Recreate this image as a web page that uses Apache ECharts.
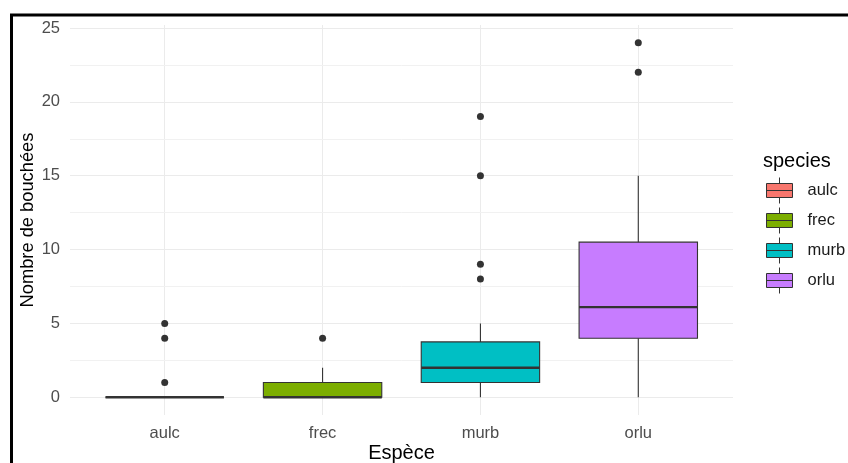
<!DOCTYPE html>
<html>
<head>
<meta charset="utf-8">
<script src="https://cdn.jsdelivr.net/npm/echarts@6/dist/echarts.min.js"></script>
<style>
  html, body { margin: 0; padding: 0; background: #ffffff; }
  #chart { width: 848px; height: 463px; }
</style>
</head>
<body>
<div id="chart"></div>
<script>
// Box statistics per species (whisker ends, quartiles, median)
const species = ['aulc', 'frec', 'murb', 'orlu'];
const whiskerLow = [0, 0, 0, 0];
const q1 = [0, 0, 1, 4];
const median = [0, 0, 2, 6.1];
const q3 = [0, 1, 3.75, 10.5];
const whiskerHigh = [0, 2, 5, 15];
// Points beyond the whiskers
const outliers = [[1, 4, 5], [4], [8, 9, 15, 19], [22, 24]];
const speciesColors = ['#F8766D', '#7CAE00', '#00BFC4', '#C77CFF'];
// Value axis labels and grid lines
const yTicks = [0, 5, 10, 15, 20, 25];
const yMinorGrid = [2.5, 7.5, 12.5, 17.5, 22.5];

const FONT = "'Liberation Sans', Arial, sans-serif";
const INK = '#333333';
const GRID_COLOR = '#EBEBEB';
const TICK_SIZE = 16.5;

// Panel geometry: discrete axis padded by 0.6 of a category on each side
const panelLeft = 70, panelWidth = 663, panelTop = 25, panelHeight = 390;
const band = panelWidth / (species.length + 0.2);
const yMin = -1.2, yMax = 25.2;

function renderBox(params, api) {
  const idx = api.value(0);
  const bw = api.size([1, 0])[0];
  const half = bw * 0.75 / 2;
  const cx = api.coord([idx, 0])[0];
  const y = k => api.coord([idx, api.value(k)])[1];
  const yLo = y(1), yQ1 = y(2), yMed = y(3), yQ3 = y(4), yHi = y(5);
  return {
    type: 'group',
    children: [
      { type: 'line', shape: { x1: cx, y1: yQ3, x2: cx, y2: yHi }, style: { stroke: INK, lineWidth: 1.1 } },
      { type: 'line', shape: { x1: cx, y1: yQ1, x2: cx, y2: yLo }, style: { stroke: INK, lineWidth: 1.1 } },
      { type: 'rect', shape: { x: cx - half, y: yQ3, width: half * 2, height: yQ1 - yQ3 },
        style: { fill: api.visual('color'), stroke: INK, lineWidth: 1.1 } },
      { type: 'line', shape: { x1: cx - half, y1: yMed, x2: cx + half, y2: yMed }, style: { stroke: INK, lineWidth: 2.4 } }
    ]
  };
}

const outlierPoints = [];
outliers.forEach((vals, i) => vals.forEach(v => outlierPoints.push([i, v])));

const boxSeries = species.map((name, i) => ({
  type: 'custom',
  name: name,
  xAxisIndex: 1,
  yAxisIndex: 1,
  z: 3,
  itemStyle: { color: speciesColors[i] },
  encode: { x: 0, y: [1, 2, 3, 4, 5] },
  data: [[i, whiskerLow[i], q1[i], median[i], q3[i], whiskerHigh[i]]],
  renderItem: renderBox
}));

const legendIcon = 'path://M0,6L26,6L26,20L0,20Z M0,13L26,13 M13,0L13,6 M13,20L13,26';

const option = {
  animation: false,
  backgroundColor: '#ffffff',
  textStyle: { fontFamily: FONT },
  title: [{
    text: 'species',
    left: 758,
    top: 146,
    textStyle: { fontFamily: FONT, fontSize: 20, fontWeight: 'normal', color: '#000000' }
  }],
  legend: {
    orient: 'vertical',
    left: 761,
    top: 172,
    itemWidth: 26,
    itemHeight: 26,
    itemGap: 3,
    icon: legendIcon,
    selectedMode: false,
    data: species,
    itemStyle: { borderColor: INK, borderWidth: 1 },
    textStyle: { fontFamily: FONT, fontSize: TICK_SIZE, color: '#1A1A1A', padding: [0, 0, 0, 10] }
  },
  graphic: [{
    type: 'rect',
    left: 9,
    top: 12.5,
    shape: { width: 900, height: 500 },
    style: { fill: 'none', stroke: '#000000', lineWidth: 3 },
    z: 100
  }],
  grid: [
    { left: panelLeft, top: panelTop, width: panelWidth, height: panelHeight, outerBoundsMode: 'none', containLabel: false },
    { left: panelLeft + band * 0.1, top: panelTop, width: band * species.length, height: panelHeight, outerBoundsMode: 'none', containLabel: false }
  ],
  xAxis: [
    { type: 'value', gridIndex: 0, min: 0, max: 1, show: false },
    {
      type: 'category', gridIndex: 1, data: species,
      boundaryGap: true,
      axisLine: { show: false },
      axisTick: { show: false },
      axisLabel: { fontFamily: FONT, fontSize: TICK_SIZE, color: '#4D4D4D', margin: 10 },
      splitLine: { show: true, alignWithLabel: true, lineStyle: { color: GRID_COLOR, width: 1 } },
      name: 'Espèce',
      nameLocation: 'middle',
      nameGap: 28,
      nameMoveOverlap: false,
      nameTextStyle: { fontFamily: FONT, fontSize: 20, color: '#000000', verticalAlign: 'top' }
    }
  ],
  yAxis: [
    {
      type: 'value', gridIndex: 0, min: yMin, max: yMax,
      axisLine: { show: false },
      axisTick: { show: false },
      splitLine: { show: false },
      axisLabel: { fontFamily: FONT, fontSize: TICK_SIZE, color: '#4D4D4D', margin: 10, customValues: yTicks },
      name: 'Nombre de bouchées',
      nameLocation: 'middle',
      nameGap: 33,
      nameMoveOverlap: false,
      nameTextStyle: { fontFamily: FONT, fontSize: 18.3, color: '#000000' }
    },
    { type: 'value', gridIndex: 1, min: yMin, max: yMax, show: false, splitLine: { show: false } }
  ],
  series: [
    {
      // horizontal grid lines across the whole panel
      type: 'line',
      xAxisIndex: 0,
      yAxisIndex: 0,
      data: [],
      silent: true,
      z: 0,
      markLine: {
        silent: true,
        symbol: 'none',
        label: { show: false },
        animation: false,
        z: 0,
        data: yTicks.map(v => ({ yAxis: v, lineStyle: { color: GRID_COLOR, width: 1.1, type: 'solid' } }))
          .concat(yMinorGrid.map(v => ({ yAxis: v, lineStyle: { color: '#F1F1F1', width: 1, type: 'solid' } })))
      }
    },
    ...boxSeries,
    {
      type: 'scatter',
      name: 'outliers',
      xAxisIndex: 1,
      yAxisIndex: 1,
      z: 4,
      symbol: 'circle',
      symbolSize: 7,
      itemStyle: { color: INK, opacity: 1 },
      data: outlierPoints
    }
  ]
};

const chart = echarts.init(document.getElementById('chart'), null, { renderer: 'canvas' });
chart.setOption(option);
</script>
</body>
</html>
